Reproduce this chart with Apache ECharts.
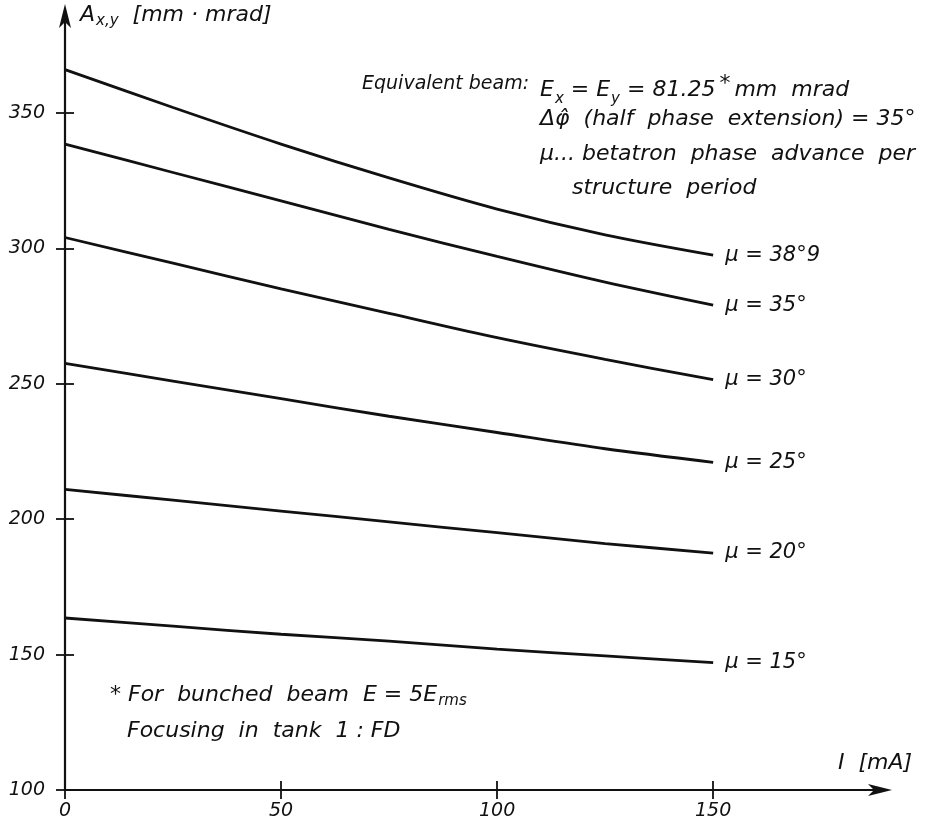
<!DOCTYPE html>
<html>
<head>
<meta charset="utf-8">
<script src="https://cdn.jsdelivr.net/npm/echarts@6/dist/echarts.min.js"></script>
<style>
  html, body { margin: 0; padding: 0; background: #fff; }
  #chart { width: 929px; height: 825px; }
</style>
</head>
<body>
<div id="chart"></div>
<script>
// Beam current I [mA]
const currents = [0, 25, 50, 75, 100, 125, 150];

// Acceptance A_x,y [mm·mrad] for each phase advance per period
const mu389 = [366, 352, 338.5, 326, 314.5, 305, 297.5];
const mu35  = [338.5, 328, 317.5, 307, 297, 287.5, 279];
const mu30  = [304, 294.5, 285, 276, 267, 259, 251.5];
const mu25  = [257.5, 251, 244.5, 238, 232, 226, 221];
const mu20  = [211, 207, 203, 199, 195, 191, 187.5];
const mu15  = [163.5, 160.5, 157.5, 155, 152, 149.5, 147];

const curveNames = ['μ = 38°9', 'μ = 35°', 'μ = 30°', 'μ = 25°', 'μ = 20°', 'μ = 15°'];
const curveValues = [mu389, mu35, mu30, mu25, mu20, mu15];

const xTicks = [0, 50, 100, 150];
const yTicks = [100, 150, 200, 250, 300, 350];

const INK = '#111';
const FONT = '"DejaVu Sans", "Liberation Sans", sans-serif';

const chart = echarts.init(document.getElementById('chart'), null, { renderer: 'canvas' });

const labelStyle = { color: INK, fontStyle: 'italic', fontFamily: FONT };

const series = curveNames.map((name, i) => ({
  name,
  type: 'line',
  smooth: 0.3,
  symbol: 'none',
  data: currents.map((c, k) => [c, curveValues[i][k]]),
  lineStyle: { color: INK, width: 2.8 },
  endLabel: {
    show: true,
    formatter: '{a}',
    distance: 12,
    offset: [0, 0],
    fontSize: 21,
    ...labelStyle
  },
  emphasis: { disabled: true },
  silent: true
}));

const rich = {
  i: { fontStyle: 'italic', fontSize: 22, fontFamily: FONT, color: INK },
  m: { fontStyle: 'italic', fontSize: 19, fontFamily: FONT, color: INK },
  s: { fontStyle: 'italic', fontSize: 15, fontFamily: FONT, color: INK, verticalAlign: 'bottom', padding: [12, 0, 0, 1] },
  sup: { fontStyle: 'italic', fontSize: 22, fontFamily: FONT, color: INK, padding: [0, 4, 12, 4] }
};

function note(x, y, text) {
  return {
    type: 'text',
    left: x,
    top: y,
    silent: true,
    style: { text, rich, fill: INK, font: 'italic 22px ' + FONT }
  };
}

const tickStyle = { color: INK, width: 1.8 };

chart.setOption({
  animation: false,
  backgroundColor: '#fff',
  grid: { left: 65, right: 43, top: 10, bottom: 35, containLabel: false },
  xAxis: [
    {
      type: 'value', min: 0, max: 190, interval: 50,
      axisLine: { show: true, lineStyle: { color: INK, width: 2.2 }, symbol: ['none', 'arrow'], symbolSize: [9, 24], symbolOffset: [0, 6] },
      axisTick: { show: false },
      axisLabel: { ...labelStyle, fontSize: 19, margin: 12, customValues: xTicks },
      splitLine: { show: false }
    },
    {
      // crossing tick marks, shifted up so they straddle the axis line
      type: 'value', min: 0, max: 190, interval: 50, position: 'bottom', offset: -9,
      axisLine: { show: false },
      axisTick: { show: true, length: 18, lineStyle: tickStyle, customValues: xTicks },
      axisLabel: { show: false },
      splitLine: { show: false }
    }
  ],
  yAxis: [
    {
      type: 'value', min: 100, max: 388, interval: 50,
      axisLine: { show: true, lineStyle: { color: INK, width: 2.2 }, symbol: ['none', 'arrow'], symbolSize: [9, 24], symbolOffset: [0, 6] },
      axisTick: { show: false },
      axisLabel: { ...labelStyle, fontSize: 19, margin: 20, customValues: yTicks },
      splitLine: { show: false }
    },
    {
      // crossing tick marks, shifted right so they straddle the axis line
      type: 'value', min: 100, max: 388, interval: 50, position: 'left', offset: -9,
      axisLine: { show: false },
      axisTick: { show: true, length: 18, lineStyle: tickStyle, customValues: yTicks },
      axisLabel: { show: false },
      splitLine: { show: false }
    }
  ],
  series,
  graphic: [
    note(80, 4, '{i|A}{s|x,y}{i|  [mm · mrad]}'),
    note(838, 752, '{i|I  [mA]}'),
    note(362, 75, '{m|Equivalent beam:}'),
    note(540, 73, '{i|E}{s|x}{i| = E}{s|y}{i| = 81.25}{sup|*}{i|mm  mrad}'),
    note(540, 108, '{i|Δφ̂  (half  phase  extension) = 35°}'),
    note(540, 143, '{i|μ... betatron  phase  advance  per}'),
    note(572, 177, '{i|structure  period}'),
    note(110, 684, '{i|* For  bunched  beam  E = 5E}{s|rms}'),
    note(127, 720, '{i|Focusing  in  tank  1 : FD}')
  ]
});
</script>
</body>
</html>
